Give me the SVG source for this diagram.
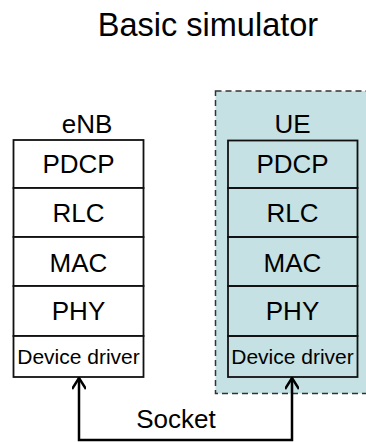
<svg xmlns="http://www.w3.org/2000/svg" width="366" height="442" viewBox="0 0 366 442">
<defs>
<style>
text{font-family:"Liberation Sans",Arial,sans-serif;fill:#000;text-anchor:middle}
.layer{stroke:#111;stroke-width:1.8}
.l{font-size:26px}
.d{font-size:21px}
.conn{fill:none;stroke:#000;stroke-width:2.5}
</style>
<marker id="ah" viewBox="0 0 14 14" refX="7" refY="1.5" markerWidth="14" markerHeight="14" markerUnits="userSpaceOnUse" orient="0">
<path d="M0,12.5 L7,1.5 L14,12.5" fill="none" stroke="#000" stroke-width="2.5"/>
</marker>
</defs>
<rect width="366" height="442" fill="#fff"/>
<text x="208" y="36" style="font-size:32.5px">Basic simulator</text>
<g id="ue-region">
<rect x="215.5" y="91" width="160" height="302.5" fill="#c5e1e3" stroke="#333" stroke-width="1.5" stroke-dasharray="6,4"/>
</g>
<g id="enb">
<text class="l" x="87" y="133">eNB</text>
<g id="enb-pdcp"><rect class="layer" x="13.5" y="140" width="130" height="48" fill="#fff"/><text class="l" x="78.5" y="173">PDCP</text></g>
<g id="enb-rlc"><rect class="layer" x="13.5" y="188" width="130" height="49" fill="#fff"/><text class="l" x="78.5" y="222">RLC</text></g>
<g id="enb-mac"><rect class="layer" x="13.5" y="237" width="130" height="49" fill="#fff"/><text class="l" x="78.5" y="271.5">MAC</text></g>
<g id="enb-phy"><rect class="layer" x="13.5" y="286" width="130" height="50" fill="#fff"/><text class="l" x="78.5" y="320">PHY</text></g>
<g id="enb-dd"><rect class="layer" x="13.5" y="336" width="130" height="41" fill="#fff"/><text class="d" x="78.5" y="364">Device driver</text></g>
</g>
<g id="ue">
<text class="l" x="292.5" y="133">UE</text>
<g id="ue-pdcp"><rect class="layer" x="228" y="140.5" width="129.5" height="47.5" fill="none"/><text class="l" x="292.5" y="173">PDCP</text></g>
<g id="ue-rlc"><rect class="layer" x="228" y="188" width="129.5" height="49" fill="none"/><text class="l" x="292.5" y="222">RLC</text></g>
<g id="ue-mac"><rect class="layer" x="228" y="237" width="129.5" height="49" fill="none"/><text class="l" x="292.5" y="271.5">MAC</text></g>
<g id="ue-phy"><rect class="layer" x="228" y="286" width="129.5" height="50" fill="none"/><text class="l" x="292.5" y="320">PHY</text></g>
<g id="ue-dd"><rect class="layer" x="228" y="336" width="129.5" height="41" fill="none"/><text class="d" x="292.5" y="364">Device driver</text></g>
</g>
<g id="connectors">
<path class="conn" d="M79,378 L79,440 L292,440 L292,378" marker-start="url(#ah)" marker-end="url(#ah)"/>
<text class="l" x="176" y="427.5">Socket</text>
</g>
</svg>
